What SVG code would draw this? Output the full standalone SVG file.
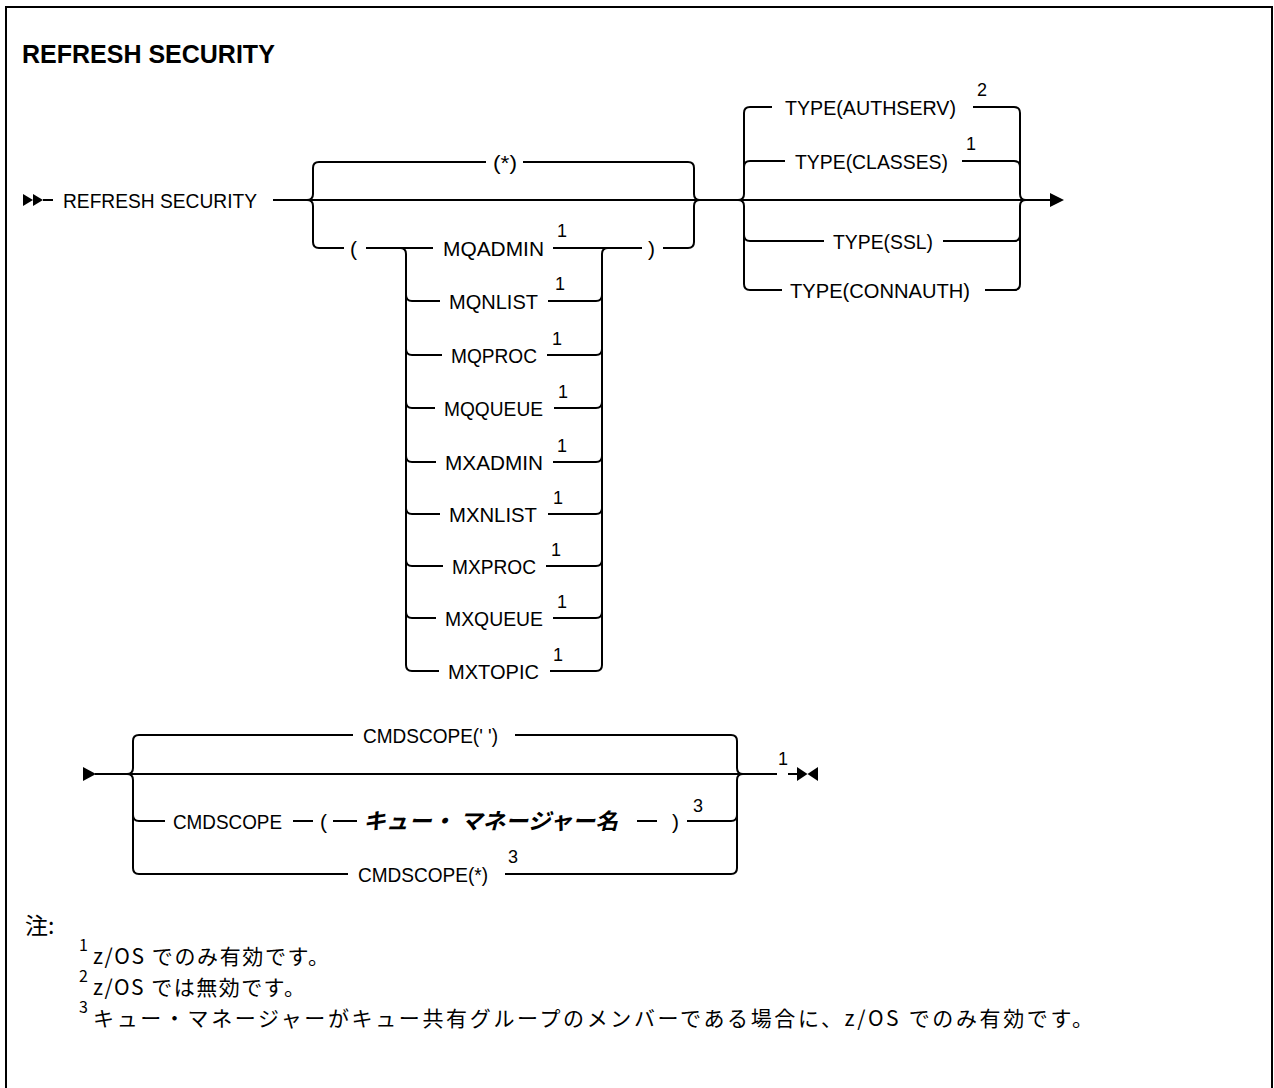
<svg xmlns="http://www.w3.org/2000/svg" width="1274" height="1088" viewBox="0 0 1274 1088">
<style>
.ln{stroke:#000;stroke-width:2;fill:none;stroke-linecap:butt}
.ah{fill:#000;stroke:none}
.t{font-family:"Liberation Sans",Arial,sans-serif;font-size:21px;fill:#000}
.sup{font-family:"Liberation Sans",Arial,sans-serif;font-size:18px;fill:#000}
.title{font-family:"Liberation Sans",Arial,sans-serif;font-size:25px;font-weight:bold;fill:#000}
.var{font-family:"Noto Sans CJK JP",sans-serif;font-size:22px;font-weight:bold;font-style:italic;fill:#000}
.note{font-family:"Noto Sans CJK JP",sans-serif;font-size:21px;fill:#000}
.nhead{font-family:"Noto Sans CJK JP",sans-serif;font-size:23px;fill:#000}
.nsup{font-family:"Noto Sans CJK JP",sans-serif;font-size:16px;fill:#000}
</style>
<rect x="0" y="0" width="1274" height="1088" fill="#fff"/>
<path class="ln" d="M6,1090 V7 H1272 V1090"/>
<g id="title"><text class="title" x="22" y="63">REFRESH SECURITY</text></g>

<g id="connectors">
  <!-- diagram 1 start -->
  <polygon class="ah" points="23,194 33,200 23,206"/>
  <polygon class="ah" points="33,194 43,200 33,206"/>
  <path class="ln" d="M43,200 H53"/>
  <path class="ln" d="M273,200 H1052"/>
  <polygon class="ah" points="1050,193 1064,200 1050,207"/>
  <!-- group 1 brackets -->
  <path class="ln" d="M319,162 Q313,162 313,168 V194 Q313,200 307,200 Q313,200 313,206 V242 Q313,248 319,248"/>
  <path class="ln" d="M688,162 Q694,162 694,168 V194 Q694,200 700,200 Q694,200 694,206 V242 Q694,248 688,248"/>
  <path class="ln" d="M319,162 H486 M523,162 H688"/>
  <path class="ln" d="M319,248 H344 M366,248 H433 M553,248 H642 M663,248 H688"/>
  <!-- inner list brackets -->
  <path class="ln" d="M400,248 Q406,248 406,254 V665 Q406,671 412,671"/>
  <path class="ln" d="M596,671 Q602,671 602,665 V254 Q602,248 608,248"/>
  <path class="ln" d="M406,295 Q406,301 412,301 H440 M548,301 H596 Q602,301 602,295"/>
  <path class="ln" d="M406,349 Q406,355 412,355 H442 M547,355 H596 Q602,355 602,349"/>
  <path class="ln" d="M406,402 Q406,408 412,408 H435 M554,408 H596 Q602,408 602,402"/>
  <path class="ln" d="M406,456 Q406,462 412,462 H436 M553,462 H596 Q602,462 602,456"/>
  <path class="ln" d="M406,508 Q406,514 412,514 H440 M548,514 H596 Q602,514 602,508"/>
  <path class="ln" d="M406,560 Q406,566 412,566 H443 M546,566 H596 Q602,566 602,560"/>
  <path class="ln" d="M406,612 Q406,618 412,618 H436 M553,618 H596 Q602,618 602,612"/>
  <path class="ln" d="M412,671 H439 M550,671 H596"/>
  <!-- TYPE group -->
  <path class="ln" d="M750,107 Q744,107 744,113 V194 Q744,200 738,200 Q744,200 744,206 V284 Q744,290 750,290"/>
  <path class="ln" d="M1014,107 Q1020,107 1020,113 V194 Q1020,200 1026,200 Q1020,200 1020,206 V284 Q1020,290 1014,290"/>
  <path class="ln" d="M744,167 Q744,161 750,161 M744,235 Q744,241 750,241"/>
  <path class="ln" d="M1014,161 Q1020,161 1020,167 M1014,241 Q1020,241 1020,235"/>
  <path class="ln" d="M750,107 H772 M973,107 H1014"/>
  <path class="ln" d="M750,161 H785 M962,161 H1014"/>
  <path class="ln" d="M750,241 H824 M943,241 H1014"/>
  <path class="ln" d="M750,290 H782 M985,290 H1014"/>
  <!-- diagram 2 -->
  <polygon class="ah" points="83,767 96,774 83,781"/>
  <path class="ln" d="M95,774 H777 M788,774 H798"/>
  <polygon class="ah" points="797,767 807.5,774 797,781"/>
  <polygon class="ah" points="818,767 807.5,774 818,781"/>
  <path class="ln" d="M139,735 Q133,735 133,741 V768 Q133,774 127,774 Q133,774 133,780 V868 Q133,874 139,874"/>
  <path class="ln" d="M731,735 Q737,735 737,741 V768 Q737,774 743,774 Q737,774 737,780 V868 Q737,874 731,874"/>
  <path class="ln" d="M133,815 Q133,821 139,821 M731,821 Q737,821 737,815"/>
  <path class="ln" d="M139,735 H353 M515,735 H731"/>
  <path class="ln" d="M139,821 H165 M293,821 H313 M333,821 H357 M637,821 H657 M687,821 H731"/>
  <path class="ln" d="M139,874 H348 M505,874 H731"/>
</g>

<g id="start"><text class="t" x="63" y="208" textLength="194" lengthAdjust="spacingAndGlyphs">REFRESH SECURITY</text></g>
<g id="all"><text class="t" x="493" y="170" textLength="24" lengthAdjust="spacingAndGlyphs">(*)</text></g>
<g id="lparen"><text class="t" x="350" y="256">(</text></g>
<g id="rparen"><text class="t" x="648" y="256">)</text></g>
<g id="mqadmin"><text class="t" x="443" y="256" textLength="101" lengthAdjust="spacingAndGlyphs">MQADMIN</text><text class="sup" x="557" y="237">1</text></g>
<g id="mqnlist"><text class="t" x="449" y="309" textLength="89" lengthAdjust="spacingAndGlyphs">MQNLIST</text><text class="sup" x="555" y="290">1</text></g>
<g id="mqproc"><text class="t" x="451" y="363" textLength="86" lengthAdjust="spacingAndGlyphs">MQPROC</text><text class="sup" x="552" y="345">1</text></g>
<g id="mqqueue"><text class="t" x="444" y="416" textLength="99" lengthAdjust="spacingAndGlyphs">MQQUEUE</text><text class="sup" x="558" y="398">1</text></g>
<g id="mxadmin"><text class="t" x="445" y="470" textLength="98" lengthAdjust="spacingAndGlyphs">MXADMIN</text><text class="sup" x="557" y="452">1</text></g>
<g id="mxnlist"><text class="t" x="449" y="522" textLength="88" lengthAdjust="spacingAndGlyphs">MXNLIST</text><text class="sup" x="553" y="504">1</text></g>
<g id="mxproc"><text class="t" x="452" y="574" textLength="84" lengthAdjust="spacingAndGlyphs">MXPROC</text><text class="sup" x="551" y="556">1</text></g>
<g id="mxqueue"><text class="t" x="445" y="626" textLength="98" lengthAdjust="spacingAndGlyphs">MXQUEUE</text><text class="sup" x="557" y="608">1</text></g>
<g id="mxtopic"><text class="t" x="448" y="679" textLength="91" lengthAdjust="spacingAndGlyphs">MXTOPIC</text><text class="sup" x="553" y="661">1</text></g>

<g id="type-authserv"><text class="t" x="785" y="115" textLength="171" lengthAdjust="spacingAndGlyphs">TYPE(AUTHSERV)</text><text class="sup" x="977" y="96">2</text></g>
<g id="type-classes"><text class="t" x="795" y="169" textLength="153" lengthAdjust="spacingAndGlyphs">TYPE(CLASSES)</text><text class="sup" x="966" y="150">1</text></g>
<g id="type-ssl"><text class="t" x="833" y="249" textLength="100" lengthAdjust="spacingAndGlyphs">TYPE(SSL)</text></g>
<g id="type-connauth"><text class="t" x="790" y="298" textLength="180" lengthAdjust="spacingAndGlyphs">TYPE(CONNAUTH)</text></g>

<g id="end-note"><text class="sup" x="778" y="765">1</text></g>
<g id="cmdscope-blank"><text class="t" x="363" y="743" textLength="135" lengthAdjust="spacingAndGlyphs">CMDSCOPE(' ')</text></g>
<g id="cmdscope-qmgr">
  <text class="t" x="173" y="829" textLength="109" lengthAdjust="spacingAndGlyphs">CMDSCOPE</text>
  <text class="t" x="320" y="829">(</text>
  <text class="var" x="363" y="829" textLength="255" lengthAdjust="spacingAndGlyphs">キュー・ マネージャー名</text>
  <text class="t" x="672" y="829">)</text>
  <text class="sup" x="693" y="812">3</text>
</g>
<g id="cmdscope-all"><text class="t" x="358" y="882" textLength="130" lengthAdjust="spacingAndGlyphs">CMDSCOPE(*)</text><text class="sup" x="508" y="863">3</text></g>

<g id="notes">
  <text class="nhead" x="25" y="934">注:</text>
  <text class="nsup" x="79" y="951">1</text><text class="note" x="93" y="964" textLength="236" lengthAdjust="spacing">z/OS でのみ有効です。</text>
  <text class="nsup" x="79" y="982">2</text><text class="note" x="93" y="995" textLength="212" lengthAdjust="spacing">z/OS では無効です。</text>
  <text class="nsup" x="79" y="1013">3</text><text class="note" x="93" y="1026" textLength="1000" lengthAdjust="spacing">キュー・マネージャーがキュー共有グループのメンバーである場合に、z/OS でのみ有効です。</text>
</g>
</svg>
